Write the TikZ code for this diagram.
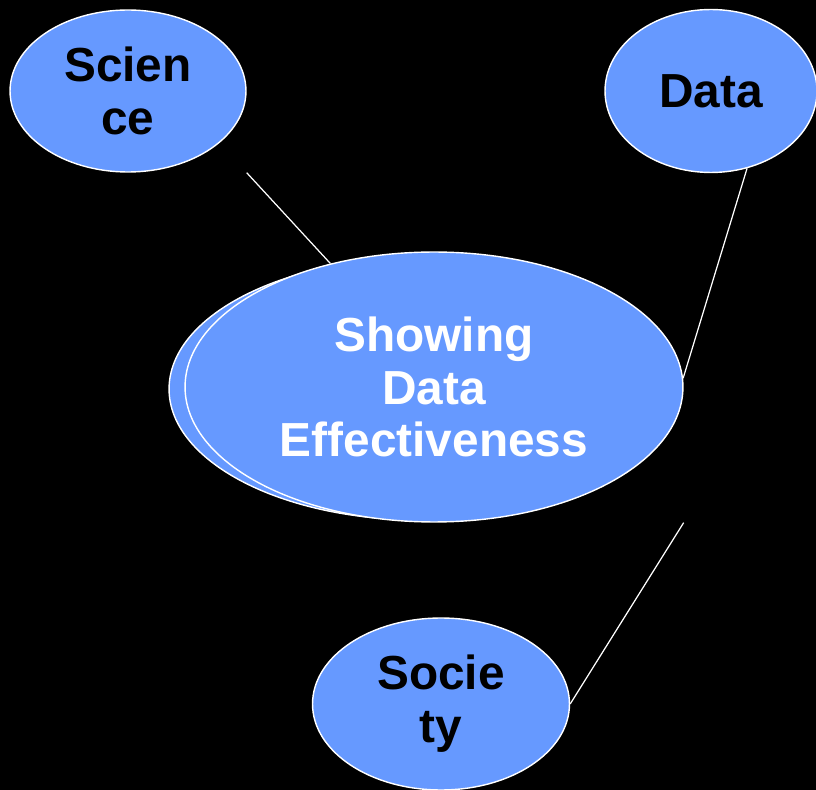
\documentclass[tikz,border=0pt]{standalone}
\usepackage{fontspec}
\setmainfont{Liberation Sans}
\usetikzlibrary{shapes.geometric}
\definecolor{bubble}{HTML}{6699FF}

\tikzset{
    topic/.style={ellipse, draw=white, line width=0.8pt, fill=bubble, inner sep=0pt,
        align=center, font=\fontsize{27.2}{30}\selectfont\bfseries},
    link/.style={draw=white, line width=0.7pt}
}

\begin{document}
\begin{tikzpicture}[x=0.02cm, y=-0.02cm]
    \fill[black] (0,0) rectangle (816,790);
    \useasboundingbox (0,0) rectangle (816,790);

    \node[topic, minimum width=10.04cm, minimum height=5.24cm] (effectback) at (420,389) {};
    \node[topic, minimum width=9.96cm, minimum height=5.4cm, text=white] (effect) at (434,387) {Showing\\Data\\Effectiveness};

    \node[topic, minimum width=4.72cm, minimum height=3.24cm] (science) at (128,91) {Scien\\ce};
    \node[topic, minimum width=4.24cm, minimum height=3.26cm] (data) at (711,91) {Data};
    \node[topic, minimum width=5.14cm, minimum height=3.44cm] (society) at (441,704) {Socie\\ty};

    \draw[link] (science.east |- science.south) -- (effect.130);
    \draw[link] (data.-65) -- (effect.2);
    \draw[link] (effect.east |- effect.south) -- (society.east);
\end{tikzpicture}
\end{document}
